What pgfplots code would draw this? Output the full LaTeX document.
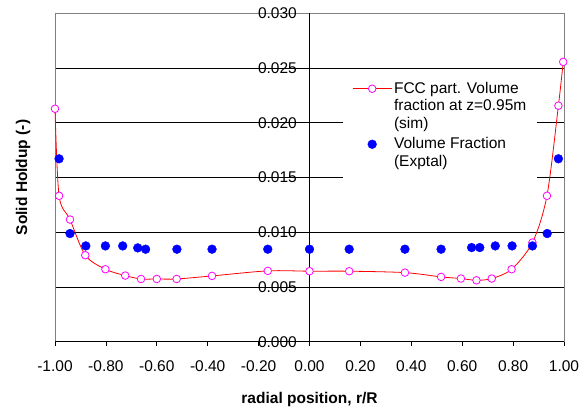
\documentclass[border=0pt]{standalone}
\usepackage{pgfplots}
\pgfplotsset{compat=1.18}
\usepackage{pgfplotstable}
\usepackage{fontspec}
\setmainfont{Liberation Sans}
\definecolor{simred}{RGB}{255,0,0}
\definecolor{simmag}{RGB}{255,0,255}
\definecolor{expblue}{RGB}{0,0,255}
\definecolor{framegray}{RGB}{128,128,128}
\newcommand{\chartfont}{\fontsize{15.5bp}{17.5bp}\selectfont}

\pgfplotstableread{
x y
-1.000 0.02128
-0.984 0.01333
-0.941 0.01116
-0.881 0.00790
-0.802 0.00662
-0.724 0.00604
-0.662 0.00573
-0.600 0.00573
-0.522 0.00573
-0.383 0.00601
-0.164 0.00647
0.000 0.00644
0.156 0.00644
0.375 0.00631
0.517 0.00592
0.595 0.00577
0.656 0.00561
0.716 0.00577
0.794 0.00662
0.876 0.00906
0.933 0.01333
0.978 0.02156
0.997 0.02556
}\simdata

\pgfplotstableread{
x y
-0.984 0.01671
-0.941 0.00988
-0.879 0.00875
-0.802 0.00875
-0.734 0.00875
-0.675 0.00857
-0.644 0.00845
-0.521 0.00845
-0.383 0.00845
-0.164 0.00845
0.000 0.00845
0.156 0.00845
0.375 0.00845
0.517 0.00845
0.637 0.00860
0.669 0.00860
0.730 0.00875
0.796 0.00875
0.876 0.00875
0.934 0.00988
0.978 0.01671
}\expdata

\begin{document}
\chartfont
\begin{tikzpicture}
\begin{axis}[
  scale only axis,
  width=509bp, height=328.4bp,
  xmin=-1, xmax=1, ymin=0, ymax=0.03,
  clip=false,
  axis line style={draw=framegray, line width=0.8bp},
  xtick={-1,-0.8,-0.6,-0.4,-0.2,0,0.2,0.4,0.6,0.8,1},
  ytick={0,0.005,0.01,0.015,0.02,0.025,0.03},
  scaled y ticks=false, scaled x ticks=false,
  /pgf/number format/assume math mode=true,
  xticklabel style={/pgf/number format/fixed, /pgf/number format/fixed zerofill, /pgf/number format/precision=2},
  yticklabel style={/pgf/number format/fixed, /pgf/number format/fixed zerofill, /pgf/number format/precision=3},
  tick align=outside,
  major tick length=4bp,
  xtick pos=bottom,
  ytick pos=left,
  x tick style={black, line width=0.8bp},
  y tick style={draw=none},
  x tick label style={anchor=north, inner sep=0pt, yshift=-15bp},
  y tick label style={anchor=east, inner sep=0pt, xshift=246bp},
  tick label style={font=\chartfont},
  ymajorgrids,
  grid style={black, line width=0.7bp},
  every axis x label/.style={at={(axis description cs:0.5,-0.1897)}, anchor=base},
  every axis y label/.style={at={(axis description cs:-0.055,0.5)}, rotate=90, anchor=base},
  label style={font=\chartfont\bfseries},
  xlabel={radial position, r/R},
  ylabel={Solid Holdup (-)},
  legend cell align=left,
  legend style={at={(axis description cs:0.566,0.822)}, anchor=north west,
    draw=none, fill=white, font=\chartfont,
    cells={align=left},
    row sep=3bp, inner xsep=9bp, inner ysep=8bp},
  legend image code/.code={\draw[mark repeat=2,mark phase=2,#1]
    plot coordinates {(0bp,0bp) (19.5bp,0bp) (39bp,0bp)};},
]
\addplot[simred, line width=0.8bp, smooth, mark=*, mark size=3.8bp,
  mark options={draw=simmag, fill=white, solid, line width=0.8bp},
  legend image post style={yshift=17.5bp}]
  table[x=x,y=y]{\simdata};
\addlegendentry{FCC part. Volume\\fraction at z=0.95m\\(sim)}
\addplot[only marks, mark=*, mark size=4.4bp, draw=expblue, fill=expblue,
  legend image post style={yshift=8.75bp}]
  table[x=x,y=y]{\expdata};
\addlegendentry{Volume Fraction\\(Exptal)}
\draw[black, line width=0.8bp] (axis cs:0,0) -- (axis cs:0,0.03);
\draw[black, line width=0.8bp] (axis cs:-1,0) -- (axis cs:1,0);
\end{axis}
\pgfresetboundingbox
\path ([shift={(-55bp,-70.3bp)}]current axis.south west) rectangle ([shift={(23bp,13.3bp)}]current axis.north east);
\end{tikzpicture}
\end{document}
